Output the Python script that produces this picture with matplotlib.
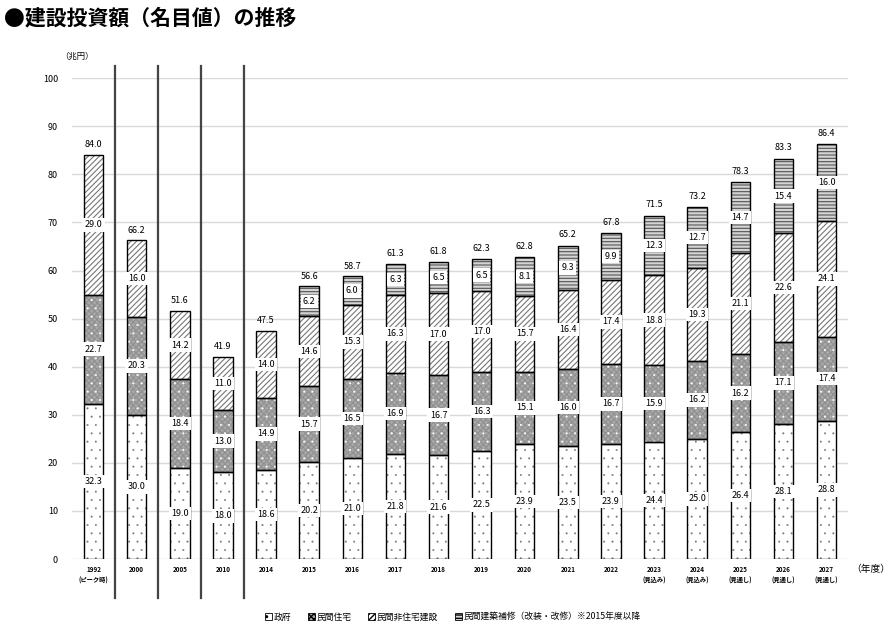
import numpy as np
import matplotlib
matplotlib.use("Agg")
import matplotlib.pyplot as plt
from matplotlib.patches import Patch
import matplotlib.transforms as mtransforms

plt.rcParams['font.family'] = ['Noto Sans CJK JP', 'DejaVu Sans']

# データ（兆円）
years = ["1992\n(ピーク時)", "2000", "2005", "2010", "2014", "2015", "2016", "2017", "2018",
         "2019", "2020", "2021", "2022", "2023\n(見込み)", "2024\n(見込み)",
         "2025\n(見通し)", "2026\n(見通し)", "2027\n(見通し)"]
seifu = [32.3, 30.0, 19.0, 18.0, 18.6, 20.2, 21.0, 21.8, 21.6, 22.5, 23.9, 23.5, 23.9, 24.4, 25.0, 26.4, 28.1, 28.8]
jutaku = [22.7, 20.3, 18.4, 13.0, 14.9, 15.7, 16.5, 16.9, 16.7, 16.3, 15.1, 16.0, 16.7, 15.9, 16.2, 16.2, 17.1, 17.4]
hijutaku = [29.0, 16.0, 14.2, 11.0, 14.0, 14.6, 15.3, 16.3, 17.0, 17.0, 15.7, 16.4, 17.4, 18.8, 19.3, 21.1, 22.6, 24.1]
hoshu = [0, 0, 0, 0, 0, 6.2, 6.0, 6.3, 6.5, 6.5, 8.1, 9.3, 9.9, 12.3, 12.7, 14.7, 15.4, 16.0]
totals = [84.0, 66.2, 51.6, 41.9, 47.5, 56.6, 58.7, 61.3, 61.8, 62.3, 62.8, 65.2, 67.8, 71.5, 73.2, 78.3, 83.3, 86.4]
names = ["政府", "民間住宅", "民間非住宅建設", "民間建築補修（改装・改修）※2015年度以降"]

# 模様の層: [(塗り, 模様の色, hatch, 模様の線幅), ...]
styles = [[("white", "#777777", "..", 0.2)],
          [("#a8a8a8", "#909090", "xxxxxx", 0.8), ("none", "white", "..", 0.3)],
          [("white", "#777777", "//////", 0.8)],
          [("#d4d4d4", "#555555", "-----", 0.8)]]

fig = plt.figure(figsize=(8.89, 6.26), dpi=100)
ax = fig.add_axes([0.081, 0.107, 0.873, 0.768])

x = np.arange(len(years))
w = 0.45
series = [seifu, jutaku, hijutaku, hoshu]
bottom = np.zeros(len(years))
for vals, layers in zip(series, styles):
    vals = np.array(vals)
    m = vals > 0
    for fc, hc, ht, hlw in layers:
        with plt.rc_context({'hatch.linewidth': hlw}):
            ax.bar(x[m], vals[m], w, bottom=bottom[m], color=fc, edgecolor=hc, hatch=ht, linewidth=0, zorder=2)
    ax.bar(x[m], vals[m], w, bottom=bottom[m], fill=False, edgecolor="black", linewidth=1.0, zorder=3)
    for xi, v, b in zip(x[m], vals[m], bottom[m]):
        ax.text(xi, b + v / 2, f"{v:.1f}", ha="center", va="center", fontsize=6.5,
                bbox=dict(boxstyle="square,pad=0.25", fc="white", ec="none"), zorder=4)
    bottom = bottom + vals

for xi, t in zip(x, totals):
    ax.text(xi, t + 2.2, f"{t:.1f}", ha="center", va="center", fontsize=6.5, zorder=4)

ax.set_xlim(-0.5, len(years) - 0.5)
ax.set_ylim(0, 100)
ax.set_yticks(np.arange(0, 101, 10))
ax.tick_params(axis="y", labelsize=6.5, length=0, pad=10)
ax.set_xticks(x)
ax.set_xticklabels(years, fontsize=4.5, fontweight="bold", linespacing=1.6)
ax.tick_params(axis="x", length=0, pad=5)
ax.yaxis.grid(True, color="#d9d9d9", linewidth=1.0, zorder=0)
ax.set_axisbelow(True)
for s in ax.spines.values():
    s.set_visible(False)

# 区切り線
trans = mtransforms.blended_transform_factory(ax.transData, ax.transAxes)
for xs in [0.5, 1.5, 2.5, 3.5]:
    ax.plot([xs - 0.035, xs - 0.035], [-0.081, 1.025], transform=trans, color="#b0b0b0", lw=0.8, clip_on=False, zorder=5)
    ax.plot([xs, xs], [-0.081, 1.025], transform=trans, color="#444444", lw=1.6, clip_on=False, zorder=5)

fig.text(0.087, 0.91, "（兆円）", fontsize=6, ha="center", va="center")
fig.text(0.958, 0.091, "（年度）", fontsize=7, ha="left", va="center")
fig.text(0.004, 0.972, "●建設投資額（名目値）の推移", fontsize=15, fontweight="bold", ha="left", va="center")

handles = []
for lay in styles:
    with plt.rc_context({'hatch.linewidth': 0.6}):
        handles.append(Patch(facecolor=lay[0][0], edgecolor="black", hatch=lay[0][2], linewidth=0.6))
fig.legend(handles, names, loc="center", bbox_to_anchor=(0.509, 0.014), ncol=4, frameon=False,
           fontsize=6.3, handlelength=0.8, handleheight=0.8, handletextpad=0.2, columnspacing=1.9)

fig.savefig("out.png", dpi=100)
